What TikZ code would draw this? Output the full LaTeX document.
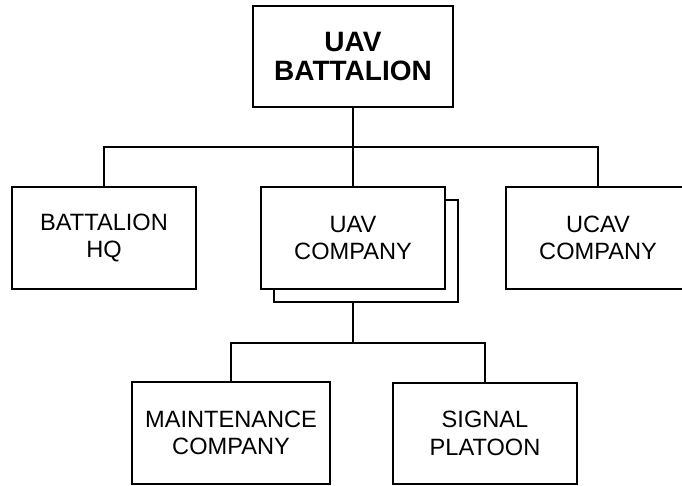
\documentclass[tikz,border=0pt]{standalone}
\usepackage{fontspec}
\setmainfont{Liberation Sans}
\usepackage{tikz}
\usetikzlibrary{shapes,positioning,shadows,calc}

\begin{document}
\begin{tikzpicture}[
    x=1pt, y=-1pt,
    line width=1.3pt,
    unit/.style={rectangle, minimum width=184pt, minimum height=102pt, text centered, align=center, draw=black, fill=white, font=\fontsize{23.6}{27.5}\selectfont},
    hq/.style={unit, minimum width=200pt, minimum height=101pt, font=\fontsize{28}{29}\selectfont\bfseries},
    stacked/.style={unit, copy shadow={shadow xshift=13pt, shadow yshift=-13pt}}
]

\useasboundingbox (0,0) rectangle (682,485);

\node[hq] (battalion) at (353,56.5) {UAV\\BATTALION};
\node[unit] (bhq) at (104,238) {BATTALION\\HQ};
\node[stacked] (uavco) at (353,238) {UAV\\COMPANY};
\node[unit] (ucav) at (598,238) {UCAV\\COMPANY};
\node[unit, minimum width=198pt] (maint) at (231,433) {MAINTENANCE\\COMPANY};
\node[unit, minimum height=101pt] (signal) at (485,433.5) {SIGNAL\\PLATOON};

\coordinate (bus1) at (353,147);
\coordinate (uavbot) at ([yshift=-13pt]uavco.south);
\coordinate (bus2) at (353,343);

\draw (battalion.south) -- (uavco.north);
\draw (bhq.north) |- (bus1) -| (ucav.north);
\draw (uavbot) -- (bus2);
\draw (maint.north) |- (bus2) -| (signal.north);

\end{tikzpicture}
\end{document}
